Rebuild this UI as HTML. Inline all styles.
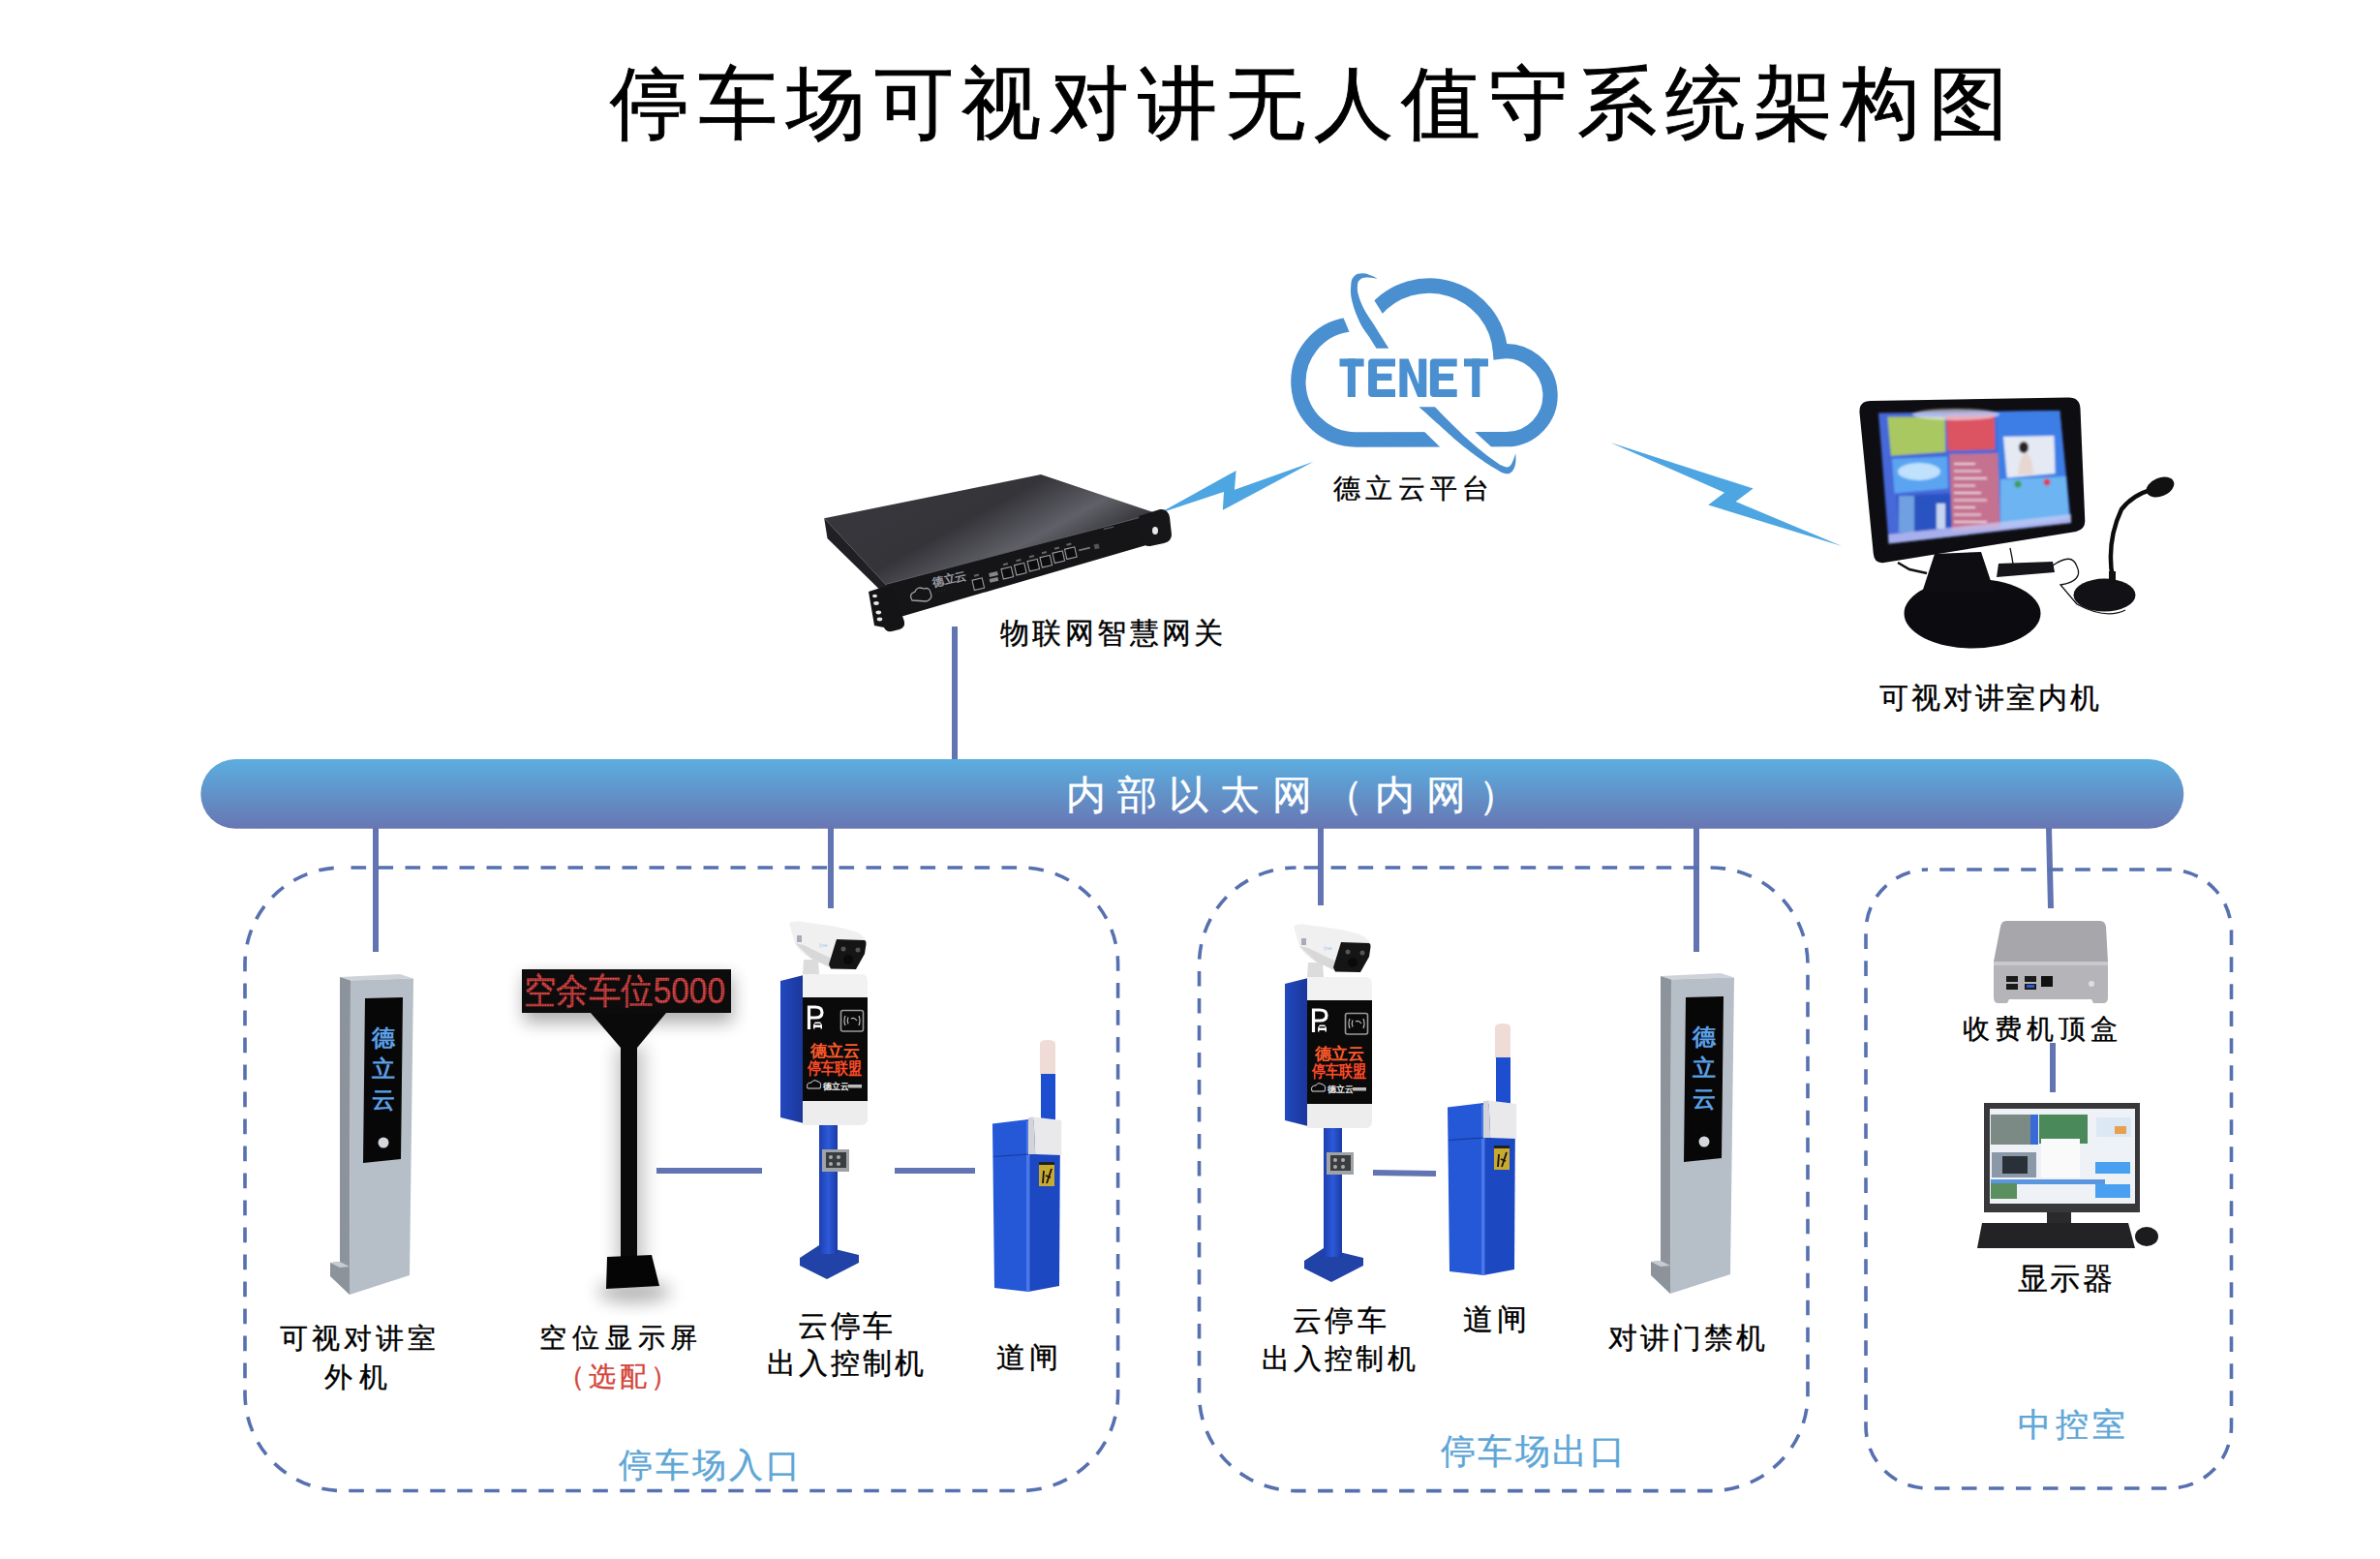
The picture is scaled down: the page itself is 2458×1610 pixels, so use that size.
<!DOCTYPE html>
<html><head><meta charset="utf-8">
<style>
html,body{margin:0;padding:0;background:#fff;}
body{width:2458px;height:1610px;position:relative;overflow:hidden;font-family:"Liberation Sans",sans-serif;}
svg.g{position:absolute;left:0;top:0;}
.t{position:absolute;white-space:nowrap;font-family:"Liberation Sans",sans-serif;}
</style></head><body>
<svg class="g" width="2458" height="1610" viewBox="0 0 2458 1610">
<defs>
<linearGradient id="bus" x1="0" y1="0" x2="0" y2="1"><stop offset="0" stop-color="#5caee0"/><stop offset="0.5" stop-color="#6192c8"/><stop offset="1" stop-color="#6876b3"/></linearGradient>
<linearGradient id="gwtop" x1="0" y1="0" x2="1" y2="0.6"><stop offset="0" stop-color="#38383e"/><stop offset="0.5" stop-color="#343439"/><stop offset="0.72" stop-color="#606068"/><stop offset="0.85" stop-color="#3e3e44"/><stop offset="1" stop-color="#2e2e33"/></linearGradient>
<linearGradient id="blue1" x1="0" y1="0" x2="1" y2="0"><stop offset="0" stop-color="#1d3fb0"/><stop offset="0.5" stop-color="#2d5ad8"/><stop offset="1" stop-color="#1a3aa6"/></linearGradient>
<linearGradient id="blueside" x1="0" y1="0" x2="1" y2="0"><stop offset="0" stop-color="#2248c0"/><stop offset="1" stop-color="#1a3699"/></linearGradient>
<linearGradient id="scr" x1="0" y1="0" x2="1" y2="1"><stop offset="0" stop-color="#3d5fc8"/><stop offset="0.5" stop-color="#6a8ee8"/><stop offset="1" stop-color="#2f62c4"/></linearGradient>
<filter id="blur2" x="-50%" y="-50%" width="200%" height="200%"><feGaussianBlur stdDeviation="6"/></filter>
<pattern id="ledgrid" width="2.6" height="2.6" patternUnits="userSpaceOnUse"><rect width="2.6" height="0.5" fill="#0d0b0b" opacity="0.6"/><rect width="0.5" height="2.6" fill="#0d0b0b" opacity="0.6"/></pattern>
<radialGradient id="glow"><stop offset="0" stop-color="#fff" stop-opacity="0.55"/><stop offset="1" stop-color="#fff" stop-opacity="0"/></radialGradient>
<filter id="soft" x="-5%" y="-5%" width="110%" height="110%"><feGaussianBlur stdDeviation="0.9"/></filter>
<filter id="blur3" x="-60%" y="-60%" width="220%" height="220%"><feGaussianBlur stdDeviation="9"/></filter>
<filter id="blur1"><feGaussianBlur stdDeviation="0.6"/></filter>
</defs>
<path d="M1419.7,321.4 A73.6,73.6 0 0 1 1549.5,363.1 A45.5,45.5 0 1 1 1555.3,453.7 L1400.4,454.0 A59.65,59.65 0 0 1 1392.1,335.3 Z" fill="none" stroke="#4a8fd0" stroke-width="15.3" stroke-linejoin="miter"/>
<polygon points="1384.0,320.0 1397.0,351.0 1433.0,332.0 1416.0,305.0" fill="#fff"/>
<polygon points="1469.5,444.3 1489.1,463.6 1542.4,463.5 1521.5,444.4" fill="#fff"/>
<path d="M1465.5,420.2 C1469.8,424.1 1478.7,432.0 1487.0,439.5 C1495.3,447.0 1499.1,450.8 1507.2,457.5 C1515.3,464.2 1520.0,467.7 1527.4,473.0 C1534.8,478.3 1538.8,480.8 1544.2,484.0 C1549.6,487.2 1550.9,488.3 1554.3,489.0 C1557.7,489.7 1558.9,489.5 1561.0,487.6 C1563.1,485.7 1564.1,483.4 1565.0,479.5 C1565.9,475.6 1565.3,470.2 1565.4,467.9 L1565.4,467.9 C1564.3,470.4 1562.5,477.8 1560.0,480.5 C1557.5,483.2 1556.7,482.7 1553.0,481.5 C1549.3,480.3 1547.6,478.9 1541.5,474.5 C1535.4,470.1 1530.4,466.3 1522.5,459.5 C1514.6,452.7 1510.1,448.4 1502.0,440.5 C1493.9,432.6 1486.0,424.3 1482.0,420.2Z" fill="#4a8fd0"/>
<path d="M1421.4,359.7 C1419.9,357.4 1417.5,353.5 1414.1,348.1 C1410.7,342.7 1407.9,340.2 1404.4,332.9 C1400.9,325.6 1398.3,319.2 1396.5,311.6 C1394.7,304.0 1394.8,300.3 1395.2,295.1 C1395.6,289.9 1395.9,288.0 1398.3,285.4 C1400.7,282.8 1403.7,282.4 1407.4,282.3 C1411.1,282.2 1413.5,283.7 1416.6,284.8 C1419.7,285.9 1421.5,287.2 1422.7,287.8 L1422.7,287.8 C1420.5,287.6 1415.4,286.4 1411.7,286.6 C1408.0,286.8 1406.4,287.2 1404.4,289.0 C1402.4,290.8 1402.1,292.4 1401.9,295.7 C1401.7,299.0 1401.9,300.9 1403.2,305.5 C1404.5,310.1 1405.7,313.3 1408.6,318.9 C1411.5,324.5 1414.1,327.7 1417.8,333.5 C1421.5,339.3 1423.6,342.9 1426.9,348.1 C1430.2,353.3 1432.7,357.4 1434.2,359.7Z" fill="#4a8fd0"/>
<rect x="1383.5" y="370.4" width="25.09999999999991" height="8.1" fill="#4a8fd0"/><rect x="1391.8" y="370.4" width="8.100000000000136" height="39.6" fill="#4a8fd0"/>
<path d="M1417.1,370.4 H1441 V378.5 H1422.1 V385.7 H1437.4 V392.9 H1422.1 V401.9 H1441 V410 H1417.1 Q1413.1,410 1413.1,406 V374.4 Q1413.1,370.4 1417.1,370.4Z" fill="#4a8fd0"/>
<path d="M1445.4,410 V370.4 H1454.5 L1465.2,397 V370.4 H1473.3 V410 H1464.2 L1453.5,383.4 V410Z" fill="#4a8fd0"/>
<path d="M1480.9,370.4 H1504.7 V378.5 H1485.9 V385.7 H1501 V392.9 H1485.9 V401.9 H1504.7 V410 H1480.9 Q1476.9,410 1476.9,406 V374.4 Q1476.9,370.4 1480.9,370.4Z" fill="#4a8fd0"/>
<rect x="1512" y="370.4" width="25" height="8.1" fill="#4a8fd0"/><rect x="1520.2" y="370.4" width="8.099999999999909" height="39.6" fill="#4a8fd0"/>
<polygon points="1196.8,530.2 1276.6,486.0 1275.0,505.8 1356.5,476.8 1262.8,526.8 1264.0,507.9" fill="#4da6e1"/>
<polygon points="1663.1,456.9 1810.6,504.5 1792.6,518.1 1902.3,564.0 1764.2,521.4 1781.1,508.8" fill="#4da6e1"/>
<rect x="207.3" y="784" width="2048" height="71.8" rx="35.9" fill="url(#bus)"/>
<line x1="986" y1="647" x2="986" y2="784" stroke="#6274b2" stroke-width="6"/>
<line x1="388" y1="855" x2="388" y2="983" stroke="#6274b2" stroke-width="6"/>
<line x1="858" y1="855" x2="858" y2="938" stroke="#6274b2" stroke-width="6"/>
<line x1="1364" y1="855" x2="1364" y2="935" stroke="#6274b2" stroke-width="6"/>
<line x1="1752" y1="855" x2="1752" y2="983" stroke="#6274b2" stroke-width="6"/>
<line x1="2116" y1="855" x2="2118" y2="938" stroke="#6274b2" stroke-width="6"/>
<line x1="2120" y1="1077" x2="2120" y2="1128" stroke="#6274b2" stroke-width="6"/>
<line x1="678" y1="1209" x2="787" y2="1209" stroke="#6274b2" stroke-width="6"/>
<line x1="924" y1="1209" x2="1007" y2="1209" stroke="#6274b2" stroke-width="6"/>
<line x1="1418" y1="1211" x2="1483" y2="1212" stroke="#6274b2" stroke-width="6"/>
<rect x="253" y="896" width="901.5999999999999" height="643.5" rx="100" fill="none" stroke="#5670b0" stroke-width="3.6" stroke-dasharray="15.6 12.4" stroke-dashoffset="-9.5"/>
<rect x="1238.5" y="896" width="628.5" height="643.5999999999999" rx="100" fill="none" stroke="#5670b0" stroke-width="3.6" stroke-dasharray="15.6 12.4" stroke-dashoffset="-8.1"/>
<rect x="1927" y="898" width="377.5" height="639" rx="64" fill="none" stroke="#5670b0" stroke-width="3.6" stroke-dasharray="15.6 12.4" stroke-dashoffset="-12.2"/>
<g id="gateway">
<polygon points="851.2,535.3 1075.0,490.0 1194.0,530.0 914.5,603.5" fill="url(#gwtop)"/>
<polygon points="851.2,535.3 914.5,603.5 926.0,626.0 854.5,556.0" fill="#202024"/>
<polygon points="914.5,603.5 1194.0,530.0 1201.0,558.0 930.0,637.0" fill="#151518"/>
<line x1="914.5" y1="603.5" x2="1194" y2="530" stroke="#55555c" stroke-width="1"/>
<path d="M897,611 L916,605 Q921,604 923,610 L934,642 Q935,648 929,650 L921,652 Q915,653 913,648 L903,646Z" fill="#141416"/>
<ellipse cx="903.5" cy="615.5" rx="2.5" ry="1.8" fill="#fff" opacity="0.9"/><ellipse cx="905" cy="623" rx="2.8" ry="1.9" fill="#fff" opacity="0.9"/><ellipse cx="907.3" cy="632.5" rx="2.8" ry="1.9" fill="#fff" opacity="0.9"/><ellipse cx="908.5" cy="639.5" rx="2.8" ry="1.9" fill="#fff" opacity="0.9"/>
<path d="M1176,533 L1198,526 Q1206,525 1208,534 L1210,552 Q1210,559 1202,561 L1188,564 Q1181,565 1180,557Z" fill="#161618"/>
<ellipse cx="1193" cy="548" rx="3" ry="4" fill="#e8e8e8"/>
<path d="M942,620 Q938,613 945,611 Q947,605 954,608 Q960,606 961,612 Q964,618 957,621Z" fill="none" stroke="#a0a0a8" stroke-width="1.3"/>
<text x="964" y="606" font-size="12" fill="#9a9aa2" font-weight="bold" transform="rotate(-13 964 606)">德立云</text>
<text x="966" y="613" font-size="5" fill="#777" transform="rotate(-13 966 613)">· · · ·</text>
<rect x="1005" y="598" width="10.5" height="10.5" fill="#0c0c0c" stroke="#9a9aa2" stroke-width="1.1" transform="rotate(-13 1010 603)"/>
<rect x="1008" y="593" width="5" height="2" fill="#666" transform="rotate(-13 1010 603)"/>
<rect x="1035" y="586.5" width="10.5" height="10.5" fill="#0c0c0c" stroke="#9a9aa2" stroke-width="1.1" transform="rotate(-13 1040 591.5)"/>
<rect x="1038" y="581.5" width="5" height="2" fill="#666" transform="rotate(-13 1040 591.5)"/>
<rect x="1048.5" y="582.5" width="10.5" height="10.5" fill="#0c0c0c" stroke="#9a9aa2" stroke-width="1.1" transform="rotate(-13 1053.5 587.5)"/>
<rect x="1051.5" y="577.5" width="5" height="2" fill="#666" transform="rotate(-13 1053.5 587.5)"/>
<rect x="1062" y="578.5" width="10.5" height="10.5" fill="#0c0c0c" stroke="#9a9aa2" stroke-width="1.1" transform="rotate(-13 1067 583.5)"/>
<rect x="1065" y="573.5" width="5" height="2" fill="#666" transform="rotate(-13 1067 583.5)"/>
<rect x="1075" y="574.5" width="10.5" height="10.5" fill="#0c0c0c" stroke="#9a9aa2" stroke-width="1.1" transform="rotate(-13 1080 579.5)"/>
<rect x="1078" y="569.5" width="5" height="2" fill="#666" transform="rotate(-13 1080 579.5)"/>
<rect x="1088" y="570" width="10.5" height="10.5" fill="#0c0c0c" stroke="#9a9aa2" stroke-width="1.1" transform="rotate(-13 1093 575)"/>
<rect x="1091" y="565" width="5" height="2" fill="#666" transform="rotate(-13 1093 575)"/>
<rect x="1100.5" y="566" width="10.5" height="10.5" fill="#0c0c0c" stroke="#9a9aa2" stroke-width="1.1" transform="rotate(-13 1105.5 571)"/>
<rect x="1103.5" y="561" width="5" height="2" fill="#666" transform="rotate(-13 1105.5 571)"/>
<rect x="1022" y="591" width="9" height="4" fill="#888" transform="rotate(-13 1026 595)"/><rect x="1022" y="597" width="9" height="4" fill="#888" transform="rotate(-13 1026 599)"/>
<rect x="1114" y="566" width="12" height="2" fill="#777" transform="rotate(-13 1120 567)"/><rect x="1130" y="562" width="5" height="5" fill="#555" transform="rotate(-13 1132 564)"/>
<text x="1140" y="548" font-size="5" fill="#777" transform="rotate(-13 1140 548)">▪▪▪▪▪▪</text>
</g>
<g id="indoor">
<ellipse cx="2037" cy="633.5" rx="70.5" ry="36" fill="#0c0c10"/>
<polygon points="1998.0,572.0 2046.0,570.0 2060.0,612.0 1985.0,612.0" fill="#0e0e12"/>
<path d="M2076,566 Q2080,585 2080,593 L2120,584 Q2140,570 2145,585 Q2152,600 2128,604 L2145,624 Q2175,640 2195,630" fill="none" stroke="#111" stroke-width="1.3"/>
<polygon points="2064.0,582.0 2120.0,580.0 2122.0,591.0 2062.0,596.0" fill="#15151a"/>
<path d="M1960,581 L1972,588 L1990,592" fill="none" stroke="#111" stroke-width="2.5"/>
<path d="M1932,414 L2136,410.5 Q2148,410.3 2148.5,422 L2153.3,538 Q2153.5,547 2144,549 L1946,581 Q1935.9,582.5 1934.8,572 L1920.5,426 Q1919.8,414.2 1932,414Z" fill="#0d0d12"/>
<g filter="url(#soft)">
<polygon points="1940.0,426.4 2127.3,424.0 2139.0,540.0 1950.6,561.6" fill="#4668d8"/>
<polygon points="1949.4,430.5 2008.7,430.5 2009.3,466.7 1953.0,470.8" fill="#a9c862"/>
<polygon points="2010.0,428.7 2059.7,428.0 2060.3,464.3 2011.7,465.5" fill="#dc5262"/>
<polygon points="2062.0,425.0 2127.3,424.0 2137.0,536.0 2066.0,546.0" fill="#3d7ee6"/>
<polygon points="2066.0,495.0 2134.0,492.0 2137.0,536.0 2066.0,546.0" fill="#6cb4f2"/>
<polygon points="2069.0,451.0 2121.4,450.0 2122.6,489.0 2072.8,493.4" fill="#e4e9f3"/>
<ellipse cx="2090" cy="462" rx="5" ry="6" fill="#2a2424"/><path d="M2084,490 Q2086,470 2092,468 Q2099,470 2100,490Z" fill="#e6d8d0"/>
<circle cx="2084" cy="500" r="3.5" fill="#3aa050"/><circle cx="2114" cy="498" r="3.5" fill="#d84060"/>
<polygon points="1954.0,473.8 2011.0,471.4 2012.0,504.6 1956.5,509.4" fill="#5aa4f2"/>
<ellipse cx="1982" cy="487" rx="22" ry="9" fill="#d8f0ff" opacity="0.8"/>
<polygon points="2013.5,469.0 2063.3,468.0 2065.6,546.0 2015.8,548.5" fill="#c47290"/>
<rect x="2018" y="478.0" width="22" height="2" fill="#f4e4ea" opacity="0.8"/>
<rect x="2018" y="485.5" width="28" height="2" fill="#f4e4ea" opacity="0.8"/>
<rect x="2018" y="493.0" width="34" height="2" fill="#f4e4ea" opacity="0.8"/>
<rect x="2018" y="500.5" width="22" height="2" fill="#f4e4ea" opacity="0.8"/>
<rect x="2018" y="508.0" width="28" height="2" fill="#f4e4ea" opacity="0.8"/>
<rect x="2018" y="515.5" width="34" height="2" fill="#f4e4ea" opacity="0.8"/>
<rect x="2018" y="523.0" width="22" height="2" fill="#f4e4ea" opacity="0.8"/>
<rect x="2018" y="530.5" width="28" height="2" fill="#f4e4ea" opacity="0.8"/>
<rect x="2018" y="538.0" width="34" height="2" fill="#f4e4ea" opacity="0.8"/>
<polygon points="1959.0,511.8 2014.6,509.4 2015.8,547.3 1961.3,550.9" fill="#2a52c2"/>
<rect x="1961" y="512" width="16" height="38" fill="#8fc0f0" opacity="0.7"/><rect x="2000" y="520" width="9" height="26" fill="#e0ecf8" opacity="0.85"/>
<polygon points="1950.0,552.0 2139.0,531.0 2139.0,540.0 1950.6,561.6" fill="#c8c8f4" opacity="0.75"/>
<ellipse cx="2020" cy="428" rx="45" ry="6" fill="#f0f0ff" opacity="0.6"/>
</g>
<path d="M2182,598 Q2175,560 2191,526 Q2205,508 2230,504" fill="none" stroke="#0d0d0d" stroke-width="4.5"/>
<ellipse cx="2231" cy="503" rx="15" ry="9.5" transform="rotate(-22 2231 503)" fill="#111"/>
<ellipse cx="2173.5" cy="614.6" rx="32" ry="17" fill="#121216"/>
<rect x="2178" y="590" width="7" height="14" fill="#111"/>
</g>
<g transform="translate(0 0)"><polygon points="351.0,1009.0 413.0,1006.0 427.0,1010.5 362.0,1012.5" fill="#cdd3d9"/><polygon points="351.0,1009.0 362.0,1012.5 361.0,1337.0 341.0,1318.0 341.0,1304.0 351.0,1303.0" fill="#8c939a"/><polygon points="341.0,1304.0 351.0,1303.0 361.0,1308.0 351.0,1309.0" fill="#c6ccd2"/><polygon points="362.0,1012.5 427.0,1010.5 423.0,1317.0 361.0,1337.0" fill="#b6bec7"/><polygon points="377.0,1031.0 416.0,1030.0 414.0,1197.0 375.0,1201.0" fill="#070707"/><text x="396" y="1080" font-size="24" fill="#5b9fe6" text-anchor="middle" font-weight="bold" font-family="Liberation Sans,sans-serif">德</text><text x="396" y="1112" font-size="24" fill="#5b9fe6" text-anchor="middle" font-weight="bold" font-family="Liberation Sans,sans-serif">立</text><text x="396" y="1144" font-size="24" fill="#5b9fe6" text-anchor="middle" font-weight="bold" font-family="Liberation Sans,sans-serif">云</text><circle cx="396" cy="1180" r="5.5" fill="#d4d8dc"/></g>
<g transform="translate(1364 -1)"><polygon points="351.0,1009.0 413.0,1006.0 427.0,1010.5 362.0,1012.5" fill="#cdd3d9"/><polygon points="351.0,1009.0 362.0,1012.5 361.0,1337.0 341.0,1318.0 341.0,1304.0 351.0,1303.0" fill="#8c939a"/><polygon points="341.0,1304.0 351.0,1303.0 361.0,1308.0 351.0,1309.0" fill="#c6ccd2"/><polygon points="362.0,1012.5 427.0,1010.5 423.0,1317.0 361.0,1337.0" fill="#b6bec7"/><polygon points="377.0,1031.0 416.0,1030.0 414.0,1197.0 375.0,1201.0" fill="#070707"/><text x="396" y="1080" font-size="24" fill="#5b9fe6" text-anchor="middle" font-weight="bold" font-family="Liberation Sans,sans-serif">德</text><text x="396" y="1112" font-size="24" fill="#5b9fe6" text-anchor="middle" font-weight="bold" font-family="Liberation Sans,sans-serif">立</text><text x="396" y="1144" font-size="24" fill="#5b9fe6" text-anchor="middle" font-weight="bold" font-family="Liberation Sans,sans-serif">云</text><circle cx="396" cy="1180" r="5.5" fill="#d4d8dc"/></g>
<g id="led">
<rect x="541" y="1008" width="216" height="48" fill="#000" opacity="0.32" filter="url(#blur3)"/>
<rect x="636" y="1080" width="30" height="230" fill="#000" opacity="0.22" filter="url(#blur3)"/>
<ellipse cx="655" cy="1334" rx="38" ry="11" fill="#000" opacity="0.3" filter="url(#blur3)"/>
<rect x="539" y="1001" width="216" height="45" fill="#0d0b0b"/>
<text x="541" y="1035.5" font-size="37" stroke="#e84848" stroke-width="0.4" fill="#e84848" font-family="Liberation Sans,sans-serif" textLength="208" lengthAdjust="spacingAndGlyphs">空余车位5000</text>
<rect x="539" y="1001" width="216" height="45" fill="url(#ledgrid)"/>
<polygon points="610.0,1046.0 688.0,1046.0 658.0,1082.0 641.0,1082.0" fill="#0a0a0a"/>
<rect x="641" y="1080" width="17" height="220" fill="#0a0a0a"/>
<polygon points="627.0,1298.0 673.0,1296.0 681.0,1328.0 626.0,1331.0" fill="#050505"/>
</g>
<g transform="translate(0 0)"><polygon points="826.0,1299.0 846.0,1286.0 887.0,1296.0 887.0,1304.0 854.0,1321.0 826.0,1307.0" fill="#2142a6"/><rect x="846" y="1160" width="19" height="135" fill="url(#blue1)"/><rect x="849" y="1187" width="28" height="23" fill="#9fa3a6"/><rect x="853" y="1190" width="21" height="16" fill="#3a3d40"/><circle cx="858" cy="1195" r="2" fill="#aaa"/><circle cx="866" cy="1195" r="2" fill="#aaa"/><circle cx="858" cy="1202" r="2" fill="#aaa"/><circle cx="866" cy="1202" r="2" fill="#aaa"/><polygon points="806.0,1013.0 830.0,1007.0 830.0,1160.0 806.0,1154.0" fill="url(#blueside)"/><path d="M829,1006 H890 Q896,1006 896,1014 V1031 H829Z" fill="#f2f2f2"/><path d="M829,1137 H896 V1155 Q896,1162 889,1162 H829Z" fill="#ededed"/><rect x="829" y="1030" width="67" height="107" fill="#0a0a0a"/><path d="M835.5,1063 V1040 H842 Q849,1040 849,1045.5 Q849,1051 842,1051 H835.5" fill="none" stroke="#fff" stroke-width="3.2"/><path d="M840,1062.5 V1058.5 L841.8,1055.5 H847.2 L849,1058.5 V1062.5 H847.5 V1061 H841.5 V1062.5Z" fill="#fff"/><rect x="841.5" y="1057" width="6" height="1.5" fill="#111"/><rect x="868.5" y="1043.5" width="23" height="21.5" rx="2" fill="none" stroke="#9a9a9a" stroke-width="1.6"/><path d="M873,1049 Q871,1054 873,1059 M876,1050.5 Q874.5,1054 876,1057.5 M887,1049 Q889,1054 887,1059 M879,1052 Q882,1050 885,1054" fill="none" stroke="#bbb" stroke-width="1.2"/><text x="862" y="1091" font-size="17" fill="#ff5a2a" font-weight="bold" text-anchor="middle" font-family="Liberation Sans,sans-serif">德立云</text><text x="862" y="1109" font-size="17" fill="#ff4a28" font-weight="bold" text-anchor="middle" font-family="Liberation Sans,sans-serif" textLength="56" lengthAdjust="spacingAndGlyphs">停车联盟</text><path d="M834,1124 Q832,1118 838,1118 Q840,1114 845,1117 Q849,1118 847,1124Z" fill="none" stroke="#ddd" stroke-width="1"/><text x="850" y="1125" font-size="9" fill="#eee" font-weight="bold" font-family="Liberation Sans,sans-serif">德立云</text><rect x="876" y="1120" width="14" height="3.5" fill="#bbb"/><path d="M830,991 H845 L846,1006 H829Z" fill="#dcdcdc"/><path d="M815,953.5 Q817,951 825,951.5 L858,956 Q880,960 888,964 L895,971.5 L864,970 L857,999 L838,990 Q826,984 821,974Z" fill="#f0f0f0"/><path d="M821,974 L838,990 L857,999 L859,990 L830,976Z" fill="#d8d8d8"/><rect x="823" y="966" width="5" height="7" fill="#aab"/><text x="846" y="978" font-size="6" fill="#9cc4ea">(ne</text><path d="M864,970 L893,971 Q895,972 894.5,975 L893,985 L884,1001 L858,1000.5 L856,996Z" fill="#151515"/><circle cx="871" cy="980" r="2.5" fill="#555"/><circle cx="886" cy="981" r="2.5" fill="#555"/><circle cx="876" cy="991" r="5" fill="#0a0a0a"/></g>
<g transform="translate(521 3)"><polygon points="826.0,1299.0 846.0,1286.0 887.0,1296.0 887.0,1304.0 854.0,1321.0 826.0,1307.0" fill="#2142a6"/><rect x="846" y="1160" width="19" height="135" fill="url(#blue1)"/><rect x="849" y="1187" width="28" height="23" fill="#9fa3a6"/><rect x="853" y="1190" width="21" height="16" fill="#3a3d40"/><circle cx="858" cy="1195" r="2" fill="#aaa"/><circle cx="866" cy="1195" r="2" fill="#aaa"/><circle cx="858" cy="1202" r="2" fill="#aaa"/><circle cx="866" cy="1202" r="2" fill="#aaa"/><polygon points="806.0,1013.0 830.0,1007.0 830.0,1160.0 806.0,1154.0" fill="url(#blueside)"/><path d="M829,1006 H890 Q896,1006 896,1014 V1031 H829Z" fill="#f2f2f2"/><path d="M829,1137 H896 V1155 Q896,1162 889,1162 H829Z" fill="#ededed"/><rect x="829" y="1030" width="67" height="107" fill="#0a0a0a"/><path d="M835.5,1063 V1040 H842 Q849,1040 849,1045.5 Q849,1051 842,1051 H835.5" fill="none" stroke="#fff" stroke-width="3.2"/><path d="M840,1062.5 V1058.5 L841.8,1055.5 H847.2 L849,1058.5 V1062.5 H847.5 V1061 H841.5 V1062.5Z" fill="#fff"/><rect x="841.5" y="1057" width="6" height="1.5" fill="#111"/><rect x="868.5" y="1043.5" width="23" height="21.5" rx="2" fill="none" stroke="#9a9a9a" stroke-width="1.6"/><path d="M873,1049 Q871,1054 873,1059 M876,1050.5 Q874.5,1054 876,1057.5 M887,1049 Q889,1054 887,1059 M879,1052 Q882,1050 885,1054" fill="none" stroke="#bbb" stroke-width="1.2"/><text x="862" y="1091" font-size="17" fill="#ff5a2a" font-weight="bold" text-anchor="middle" font-family="Liberation Sans,sans-serif">德立云</text><text x="862" y="1109" font-size="17" fill="#ff4a28" font-weight="bold" text-anchor="middle" font-family="Liberation Sans,sans-serif" textLength="56" lengthAdjust="spacingAndGlyphs">停车联盟</text><path d="M834,1124 Q832,1118 838,1118 Q840,1114 845,1117 Q849,1118 847,1124Z" fill="none" stroke="#ddd" stroke-width="1"/><text x="850" y="1125" font-size="9" fill="#eee" font-weight="bold" font-family="Liberation Sans,sans-serif">德立云</text><rect x="876" y="1120" width="14" height="3.5" fill="#bbb"/><path d="M830,991 H845 L846,1006 H829Z" fill="#dcdcdc"/><path d="M815,953.5 Q817,951 825,951.5 L858,956 Q880,960 888,964 L895,971.5 L864,970 L857,999 L838,990 Q826,984 821,974Z" fill="#f0f0f0"/><path d="M821,974 L838,990 L857,999 L859,990 L830,976Z" fill="#d8d8d8"/><rect x="823" y="966" width="5" height="7" fill="#aab"/><text x="846" y="978" font-size="6" fill="#9cc4ea">(ne</text><path d="M864,970 L893,971 Q895,972 894.5,975 L893,985 L884,1001 L858,1000.5 L856,996Z" fill="#151515"/><circle cx="871" cy="980" r="2.5" fill="#555"/><circle cx="886" cy="981" r="2.5" fill="#555"/><circle cx="876" cy="991" r="5" fill="#0a0a0a"/></g>
<g transform="translate(0 0)"><path d="M1074,1078 Q1074,1074 1082,1074 Q1090,1074 1090,1078 V1110 H1074Z" fill="#f0dcd6"/><rect x="1075" y="1109" width="15" height="48" fill="#1e4ed0"/><polygon points="1025.0,1160.5 1062.0,1156.0 1062.0,1334.0 1027.0,1330.0" fill="#2458d6"/><polygon points="1062.0,1156.0 1095.0,1160.0 1094.0,1328.0 1062.0,1334.0" fill="#1c48c2"/><rect x="1060" y="1158" width="3.5" height="176" fill="#4a78ea"/><line x1="1026" y1="1194.5" x2="1062" y2="1192" stroke="#183a9c" stroke-width="1.2"/><polygon points="1067.5,1153.4 1096.2,1157.0 1096.2,1193.0 1069.2,1192.0" fill="#e9e9ec"/><polygon points="1062.0,1154.0 1067.5,1153.4 1069.2,1192.0 1062.0,1192.0" fill="#d4d4d8"/><rect x="1073" y="1200" width="16" height="25" fill="#c9a92e"/><rect x="1073" y="1200" width="16" height="3" fill="#222"/><path d="M1077,1222 L1078,1209 M1081,1222 L1086,1207 M1080,1214 L1085,1216" stroke="#111" stroke-width="1.8"/></g>
<g transform="translate(470 -17)"><path d="M1074,1078 Q1074,1074 1082,1074 Q1090,1074 1090,1078 V1110 H1074Z" fill="#f0dcd6"/><rect x="1075" y="1109" width="15" height="48" fill="#1e4ed0"/><polygon points="1025.0,1160.5 1062.0,1156.0 1062.0,1334.0 1027.0,1330.0" fill="#2458d6"/><polygon points="1062.0,1156.0 1095.0,1160.0 1094.0,1328.0 1062.0,1334.0" fill="#1c48c2"/><rect x="1060" y="1158" width="3.5" height="176" fill="#4a78ea"/><line x1="1026" y1="1194.5" x2="1062" y2="1192" stroke="#183a9c" stroke-width="1.2"/><polygon points="1067.5,1153.4 1096.2,1157.0 1096.2,1193.0 1069.2,1192.0" fill="#e9e9ec"/><polygon points="1062.0,1154.0 1067.5,1153.4 1069.2,1192.0 1062.0,1192.0" fill="#d4d4d8"/><rect x="1073" y="1200" width="16" height="25" fill="#c9a92e"/><rect x="1073" y="1200" width="16" height="3" fill="#222"/><path d="M1077,1222 L1078,1209 M1081,1222 L1086,1207 M1080,1214 L1085,1216" stroke="#111" stroke-width="1.8"/></g>
<g id="minipc">
<path d="M2072,951 H2169 Q2174,951 2175,957 L2177,993 H2059 L2066,957 Q2067,951 2072,951Z" fill="#a7a7ab"/>
<rect x="2059" y="993" width="118" height="4" fill="#c9c9cd"/>
<path d="M2059,997 H2177 V1030 Q2177,1036 2172,1036 H2162 L2160,1032 H2075 L2073,1036 H2064 Q2059,1036 2059,1030Z" fill="#b5b5b9"/>
<rect x="2072" y="1008" width="12" height="6" fill="#1a1a1a"/>
<rect x="2072" y="1016" width="12" height="6" fill="#1a1a1a"/>
<rect x="2091" y="1008" width="12" height="6" fill="#1a1a1a"/>
<rect x="2091" y="1016" width="12" height="6" fill="#1a1a1a"/>
<rect x="2093" y="1017" width="8" height="3" fill="#2a5ad0"/>
<rect x="2108" y="1008" width="12" height="11" fill="#111"/>
<circle cx="2160" cy="1016" r="3" fill="#ddd"/>
</g>
<g id="desktop">
<rect x="2049" y="1139" width="161" height="113" fill="#38383b"/>
<rect x="2055" y="1145" width="150" height="98" fill="#eef2f6"/>
<rect x="2056" y="1151" width="49" height="31" fill="#7b8a84"/><rect x="2097" y="1151" width="8" height="31" fill="#3a6ad8"/>
<rect x="2106" y="1151" width="50" height="30" fill="#4a8a5a"/>
<rect x="2057" y="1190" width="46" height="26" fill="#8a98a8"/><rect x="2068" y="1194" width="26" height="18" fill="#2a3038"/>
<rect x="2108" y="1176" width="40" height="40" fill="#fafafa"/>
<rect x="2056" y="1218" width="118" height="5" fill="#5a96e0"/>
<rect x="2056" y="1222" width="27" height="16" fill="#5a9060"/>
<rect x="2164" y="1200" width="36" height="12" fill="#4aa0f0"/><rect x="2164" y="1223" width="36" height="14" fill="#4aa0f0"/>
<rect x="2165" y="1154" width="36" height="20" fill="#dde8f5"/><rect x="2184" y="1163" width="12" height="8" fill="#e8a050"/>
<rect x="2114" y="1252" width="25" height="12" fill="#2a2a2c"/>
<polygon points="2047.0,1263.0 2198.0,1263.0 2205.0,1289.0 2042.0,1289.0" fill="#232325"/>
<ellipse cx="2217" cy="1277" rx="12" ry="10" fill="#1c1c1e"/>
</g>
</svg><div class="t" style="left:630.3px;top:66.0px;font-size:81.52px;line-height:81.52px;letter-spacing:8.80px;color:#000;-webkit-text-stroke:0.9px #000">停车场可视对讲无人值守系统架构图</div>
<div class="t" style="left:1376.9px;top:491.3px;font-size:27.84px;line-height:27.84px;letter-spacing:5.32px;color:#000;-webkit-text-stroke:0.35px #000">德立云平台</div>
<div class="t" style="left:1033.1px;top:639.0px;font-size:29.79px;line-height:29.79px;letter-spacing:3.36px;color:#000;-webkit-text-stroke:0.35px #000">物联网智慧网关</div>
<div class="t" style="left:1941.4px;top:705.9px;font-size:30.10px;line-height:30.10px;letter-spacing:2.73px;color:#000;-webkit-text-stroke:0.35px #000">可视对讲室内机</div>
<div class="t" style="left:1100.7px;top:801.4px;font-size:41.00px;line-height:41.00px;letter-spacing:12.24px;color:#fff;-webkit-text-stroke:0.35px #fff">内部以太网（内网）</div>
<div class="t" style="left:288.7px;top:1368.4px;font-size:28.57px;line-height:28.57px;letter-spacing:4.16px;color:#000;-webkit-text-stroke:0.35px #000">可视对讲室</div>
<div class="t" style="left:335.4px;top:1408.1px;font-size:28.72px;line-height:28.72px;letter-spacing:6.50px;color:#000;-webkit-text-stroke:0.35px #000">外机</div>
<div class="t" style="left:557.3px;top:1368.1px;font-size:27.84px;line-height:27.84px;letter-spacing:5.75px;color:#000;-webkit-text-stroke:0.35px #000">空位显示屏</div>
<div class="t" style="left:576.3px;top:1407.2px;font-size:28.28px;line-height:28.28px;letter-spacing:3.85px;color:#d4443a;-webkit-text-stroke:0.35px #d4443a">（选配）</div>
<div class="t" style="left:824.2px;top:1353.8px;font-size:30.52px;line-height:30.52px;letter-spacing:2.65px;color:#000;-webkit-text-stroke:0.35px #000">云停车</div>
<div class="t" style="left:792.3px;top:1393.2px;font-size:30.20px;line-height:30.20px;letter-spacing:2.92px;color:#000;-webkit-text-stroke:0.35px #000">出入控制机</div>
<div class="t" style="left:1029.2px;top:1386.5px;font-size:30.11px;line-height:30.11px;letter-spacing:4.20px;color:#000;-webkit-text-stroke:0.35px #000">道闸</div>
<div class="t" style="left:638.7px;top:1494.7px;font-size:35.15px;line-height:35.15px;letter-spacing:3.18px;color:#5ea6d6;-webkit-text-stroke:0.35px #5ea6d6">停车场入口</div>
<div class="t" style="left:1334.7px;top:1348.9px;font-size:29.79px;line-height:29.79px;letter-spacing:3.45px;color:#000;-webkit-text-stroke:0.35px #000">云停车</div>
<div class="t" style="left:1303.2px;top:1387.9px;font-size:29.49px;line-height:29.49px;letter-spacing:3.38px;color:#000;-webkit-text-stroke:0.35px #000">出入控制机</div>
<div class="t" style="left:1511.0px;top:1348.0px;font-size:30.74px;line-height:30.74px;letter-spacing:3.71px;color:#000;-webkit-text-stroke:0.35px #000">道闸</div>
<div class="t" style="left:1660.7px;top:1367.4px;font-size:29.79px;line-height:29.79px;letter-spacing:3.18px;color:#000;-webkit-text-stroke:0.35px #000">对讲门禁机</div>
<div class="t" style="left:1487.6px;top:1481.7px;font-size:35.51px;line-height:35.51px;letter-spacing:2.52px;color:#5ea6d6;-webkit-text-stroke:0.35px #5ea6d6">停车场出口</div>
<div class="t" style="left:2027.3px;top:1048.0px;font-size:28.33px;line-height:28.33px;letter-spacing:4.97px;color:#000;-webkit-text-stroke:0.35px #000">收费机顶盒</div>
<div class="t" style="left:2084.1px;top:1306.4px;font-size:30.76px;line-height:30.76px;letter-spacing:2.24px;color:#000;-webkit-text-stroke:0.35px #000">显示器</div>
<div class="t" style="left:2084.1px;top:1454.3px;font-size:34.04px;line-height:34.04px;letter-spacing:4.66px;color:#5ea6d6;-webkit-text-stroke:0.35px #5ea6d6">中控室</div>
</body></html>
